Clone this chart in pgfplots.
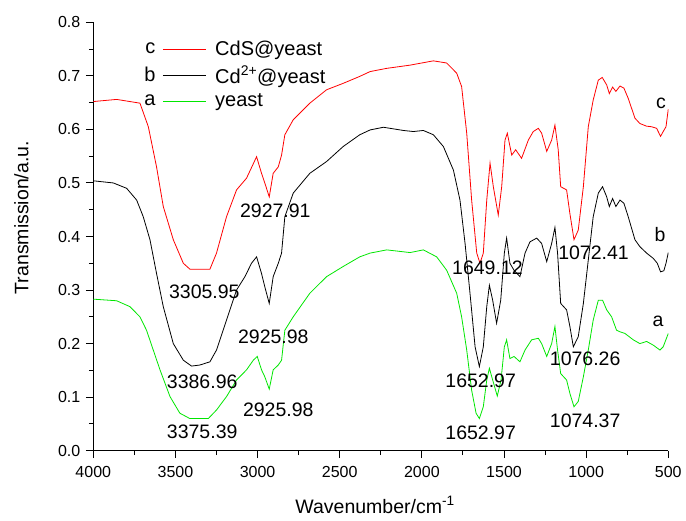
\documentclass[border=0pt]{standalone}
\usepackage{fontspec}
\setmainfont{Liberation Sans}
\usepackage{pgfplots}
\pgfplotsset{compat=1.18}
\usetikzlibrary{calc}
\definecolor{cred}{RGB}{255,0,0}
\definecolor{cgreen}{RGB}{0,230,0}
\begin{document}
\begin{tikzpicture}
\begin{axis}[
  name=ax,
  scale only axis,
  width=575pt, height=428.4pt,
  x dir=reverse,
  xmin=500, xmax=4000, ymin=0, ymax=0.8,
  axis x line*=bottom, axis y line*=left,
  axis line style={black, line width=0.9pt},
  xtick={500,1000,...,4000},
  ytick={0,0.1,...,0.8},
  minor x tick num=1, minor y tick num=1,
  tick align=outside,
  major tick length=7.5pt, minor tick length=4.5pt,
  tick style={draw=black, line width=1pt},
  x tick label style={font=\fontsize{16}{19}\selectfont, yshift=-5pt, /pgf/number format/1000 sep={}, /pgf/number format/assume math mode=true},
  y tick label style={font=\fontsize{16}{19}\selectfont, xshift=-2pt, /pgf/number format/.cd, fixed, fixed zerofill, precision=1, assume math mode=true},
  xlabel={Wavenumber/cm\textsuperscript{-1}},
  ylabel={Transmission/a.u.},
  label style={font=\fontsize{19.5}{22}\selectfont},
  x label style={at={(axis description cs:0.49,-0.127)}, anchor=center},
  y label style={at={(axis description cs:-0.125,0.544)}, anchor=center},
  legend style={draw=none, fill=none, at={(axis cs:3709,0.773)}, anchor=north west,
     font=\fontsize{20}{23}\selectfont, row sep=5pt},
  legend cell align=left,
  every axis plot/.append style={line width=0.8pt},
]
\addplot[cred, legend image code/.code={\node[black,anchor=east,inner sep=0pt] at (-7pt,0) {c}; \draw[cred] (0,0) -- (43pt,0); \path (50pt,0);}] coordinates {
(4000,0.652)(3858,0.656)(3716,0.649)(3665,0.605)(3615,0.53)(3574,0.456)(3513,0.394)(3452,0.35)(3412,0.339)(3290,0.339)(3250,0.369)(3189,0.437)(3128,0.487)(3067,0.509)(3006,0.549)(2976,0.518)(2956,0.5)(2929,0.474)(2905,0.518)(2874,0.53)(2854,0.552)(2834,0.59)(2783,0.618)(2682,0.649)(2580,0.674)(2479,0.686)(2378,0.699)(2315,0.708)(2214,0.714)(2072,0.72)(1930,0.728)(1849,0.724)(1788,0.705)(1758,0.68)(1727,0.593)(1697,0.468)(1666,0.369)(1646,0.35)(1626,0.369)(1605,0.468)(1585,0.537)(1565,0.493)(1535,0.44)(1514,0.493)(1494,0.58)(1480,0.593)(1453,0.552)(1429,0.562)(1393,0.546)(1352,0.58)(1322,0.596)(1291,0.602)(1271,0.593)(1240,0.559)(1210,0.58)(1190,0.608)(1170,0.562)(1155,0.493)(1119,0.487)(1099,0.443)(1074,0.394)(1048,0.412)(1017,0.493)(987,0.605)(957,0.655)(926,0.692)(902,0.697)(875,0.683)(859,0.667)(839,0.679)(819,0.671)(794,0.681)(770,0.677)(744,0.658)(703,0.621)(673,0.611)(632,0.606)(602,0.605)(571,0.602)(547,0.587)(531,0.596)(514,0.605)(500,0.638)
};
\addlegendentry{CdS@yeast}
\addplot[black, legend image code/.code={\node[black,anchor=east,inner sep=0pt] at (-7pt,0) {b}; \draw[black] (0,0) -- (43pt,0); \path (50pt,0);}] coordinates {
(4000,0.504)(3878,0.5)(3797,0.49)(3736,0.468)(3696,0.437)(3655,0.394)(3615,0.331)(3574,0.269)(3513,0.2)(3452,0.169)(3402,0.158)(3351,0.16)(3290,0.166)(3250,0.188)(3189,0.244)(3128,0.3)(3077,0.325)(3037,0.35)(3006,0.362)(2976,0.331)(2956,0.306)(2929,0.275)(2905,0.325)(2874,0.35)(2854,0.369)(2834,0.437)(2783,0.481)(2682,0.518)(2580,0.54)(2479,0.568)(2378,0.59)(2315,0.599)(2234,0.604)(2112,0.598)(2052,0.596)(1991,0.598)(1930,0.59)(1869,0.568)(1808,0.524)(1768,0.468)(1737,0.387)(1707,0.294)(1676,0.194)(1650,0.157)(1626,0.194)(1605,0.269)(1589,0.309)(1569,0.281)(1545,0.238)(1520,0.281)(1498,0.369)(1484,0.397)(1464,0.35)(1439,0.337)(1403,0.325)(1372,0.369)(1342,0.39)(1301,0.397)(1271,0.387)(1240,0.353)(1210,0.387)(1190,0.417)(1174,0.369)(1155,0.275)(1119,0.263)(1099,0.232)(1078,0.194)(1048,0.213)(1017,0.275)(987,0.356)(957,0.437)(926,0.481)(900,0.493)(875,0.474)(859,0.456)(839,0.471)(819,0.456)(794,0.468)(770,0.462)(744,0.437)(703,0.394)(673,0.381)(632,0.369)(591,0.359)(567,0.35)(547,0.334)(527,0.336)(514,0.35)(500,0.37)
};
\addlegendentry{Cd\textsuperscript{2+}@yeast}
\addplot[cgreen, legend image code/.code={\node[black,anchor=east,inner sep=0pt] at (-7pt,0) {a}; \draw[cgreen] (0,0) -- (43pt,0); \path (50pt,0);}] coordinates {
(4000,0.283)(3858,0.28)(3777,0.269)(3716,0.25)(3676,0.225)(3635,0.188)(3594,0.151)(3533,0.101)(3473,0.07)(3412,0.06)(3300,0.06)(3250,0.076)(3189,0.101)(3128,0.132)(3067,0.151)(3026,0.169)(3002,0.176)(2976,0.151)(2956,0.138)(2929,0.115)(2905,0.151)(2874,0.16)(2854,0.169)(2834,0.225)(2783,0.25)(2682,0.294)(2580,0.325)(2479,0.344)(2378,0.362)(2315,0.369)(2214,0.375)(2072,0.37)(1991,0.375)(1910,0.362)(1849,0.337)(1788,0.294)(1758,0.25)(1727,0.188)(1697,0.113)(1670,0.07)(1650,0.06)(1626,0.082)(1605,0.132)(1589,0.154)(1569,0.132)(1541,0.102)(1518,0.132)(1498,0.194)(1484,0.207)(1464,0.172)(1439,0.176)(1403,0.166)(1372,0.188)(1332,0.207)(1291,0.21)(1271,0.2)(1240,0.176)(1210,0.2)(1190,0.232)(1174,0.188)(1155,0.144)(1119,0.132)(1099,0.107)(1074,0.082)(1048,0.092)(1017,0.138)(987,0.188)(957,0.244)(926,0.281)(900,0.281)(875,0.263)(845,0.25)(815,0.225)(794,0.222)(764,0.219)(713,0.207)(673,0.2)(632,0.204)(591,0.197)(551,0.188)(531,0.194)(500,0.219)
};
\addlegendentry{yeast}
\begin{scope}[every node/.style={font=\fontsize{19.5}{22}\selectfont, inner sep=0pt}]
\node at (axis cs:2892,0.448) {2927.91};
\node at (axis cs:3324,0.296) {3305.95};
\node at (axis cs:2904,0.212) {2925.98};
\node at (axis cs:3337,0.128) {3386.96};
\node at (axis cs:2874,0.076) {2925.98};
\node at (axis cs:3337,0.035) {3375.39};
\node at (axis cs:1601,0.342) {1649.12};
\node at (axis cs:955,0.369) {1072.41};
\node at (axis cs:1642,0.131) {1652.97};
\node at (axis cs:1006,0.171) {1076.26};
\node at (axis cs:1642,0.034) {1652.97};
\node at (axis cs:1006,0.055) {1074.37};
\node at (axis cs:544,0.649) {c};
\node at (axis cs:550,0.404) {b};
\node at (axis cs:563,0.242) {a};
\end{scope}
\end{axis}
\pgfresetboundingbox
\path ($(ax.south west)+(-93.3pt,-70.3pt)$) rectangle ($(ax.north east)+(17.7pt,22.3pt)$);
\end{tikzpicture}
\end{document}
